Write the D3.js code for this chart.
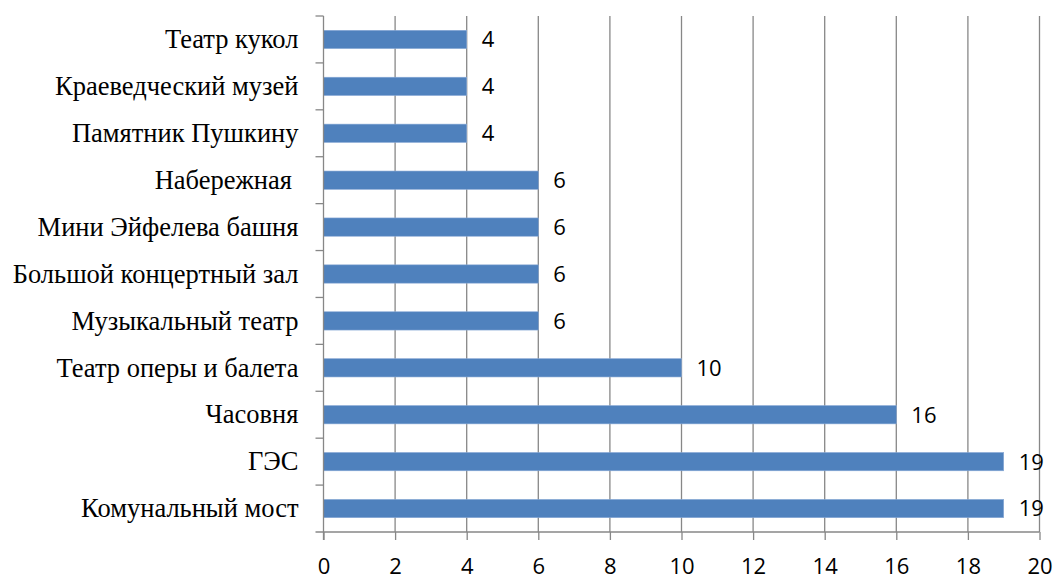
<!DOCTYPE html>
<html><head><meta charset="utf-8">
<script src="https://cdn.jsdelivr.net/npm/d3@7"></script>
<style>body{margin:0;background:#fff}svg{display:block}</style>
</head><body>
<svg id="c" width="1057" height="577"></svg>
<script>
const categories = ["Театр кукол","Краеведческий музей","Памятник Пушкину","Набережная ","Мини Эйфелева башня","Большой концертный зал","Музыкальный театр","Театр оперы и балета","Часовня","ГЭС","Комунальный мост"];
const values = [4,4,4,6,6,6,6,10,16,19,19];
const xTicks = [0,2,4,6,8,10,12,14,16,18,20];

(function(){
const svg = d3.select("#c");
const pl = 323.5, pr = 1039.5, pt = 16, pb = 532;
const x = d3.scaleLinear().domain([0,20]).range([pl,pr]);
const y = d3.scaleBand().domain(categories).range([pt,pb]).paddingInner(0.61).paddingOuter(0.305);
const grid = "#878787";

svg.append("g").selectAll("line").data(xTicks.filter(d=>d>0)).join("line")
  .attr("x1",d=>x(d)).attr("x2",d=>x(d)).attr("y1",pt).attr("y2",pb)
  .attr("stroke",grid).attr("stroke-width",1.3);

svg.append("g").selectAll("rect").data(values).join("rect")
  .attr("x",x(0)).attr("y",(d,i)=>y(categories[i]))
  .attr("width",d=>x(d)-x(0)).attr("height",y.bandwidth())
  .attr("fill","#4f81bd").attr("stroke","#8aaad6").attr("stroke-width",0.6);

svg.append("g").selectAll("text").data(values).join("text")
  .attr("x",d=>x(d)+15).attr("y",(d,i)=>y(categories[i])+y.bandwidth()/2)
  .attr("dy","0.36em").attr("font-family","Open Sans").attr("font-size",22)
  .attr("fill","#000").text(d=>d);

const xa = svg.append("g").attr("transform",`translate(0,${pb})`)
  .call(d3.axisBottom(x).tickValues(xTicks).tickSize(8).tickPadding(18).tickSizeOuter(0));
xa.select(".domain").remove();
xa.selectAll(".tick line").attr("stroke",grid).attr("stroke-width",1.3);
xa.selectAll("text").attr("font-family","Open Sans").attr("font-size",22).attr("fill","#000");
svg.append("line").attr("x1",pl-8).attr("x2",pr).attr("y1",pb).attr("y2",pb).attr("stroke",grid).attr("stroke-width",1.3);

svg.append("line").attr("x1",pl).attr("x2",pl).attr("y1",pt).attr("y2",pb+8).attr("stroke",grid).attr("stroke-width",1.3);
const bounds = categories.map(c=>y(c)-y.step()*y.paddingInner()/2);
svg.append("g").selectAll("line").data(bounds).join("line")
  .attr("x1",pl-8).attr("x2",pl).attr("y1",d=>d).attr("y2",d=>d)
  .attr("stroke",grid).attr("stroke-width",1.3);
svg.append("g").selectAll("text").data(categories).join("text")
  .attr("x",pl-25).attr("y",d=>y(d)+y.bandwidth()/2).attr("dy","0.33em")
  .attr("text-anchor","end").attr("font-family","Liberation Serif").attr("font-size",26.5)
  .style("white-space","pre").attr("fill","#000").text(d=>d);
})();
</script>
</body></html>
